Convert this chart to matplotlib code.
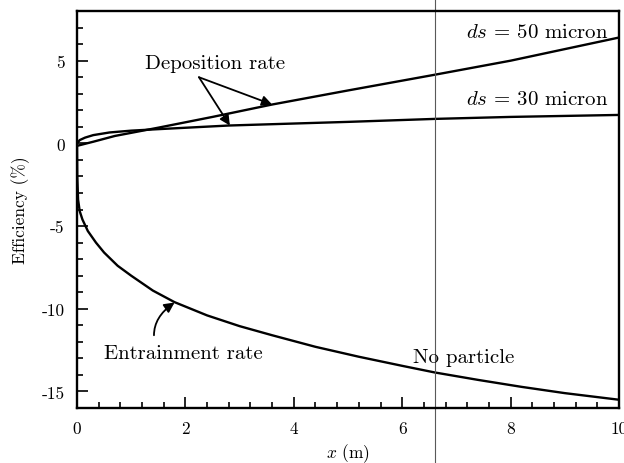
import matplotlib
matplotlib.use("Agg")
import matplotlib.pyplot as plt
from matplotlib.ticker import MultipleLocator, FuncFormatter

plt.rcParams["font.family"] = ["cmr10", "DejaVu Serif"]
plt.rcParams["mathtext.fontset"] = "cm"
plt.rcParams["axes.unicode_minus"] = False
plt.rcParams["axes.formatter.use_mathtext"] = True

# deposition efficiency, ds = 50 micron
x_50 = [0.0, 0.3, 0.7, 1.5, 2.5, 3.6, 5.0, 6.6, 8.0, 10.0]
y_50 = [-0.15, 0.1, 0.45, 0.95, 1.6, 2.35, 3.2, 4.15, 5.0, 6.4]

# deposition efficiency, ds = 30 micron
x_30 = [0.0, 0.05, 0.15, 0.3, 0.6, 1.0, 1.5, 2.8, 5.0, 6.6, 8.0, 10.0]
y_30 = [0.0, 0.2, 0.35, 0.5, 0.66, 0.77, 0.86, 1.08, 1.3, 1.48, 1.6, 1.72]

# entrainment, no particle
x_np = [0.0, 0.005, 0.02, 0.05, 0.1, 0.2, 0.35, 0.5, 0.75, 1.0, 1.4, 1.8,
        2.4, 3.0, 3.6, 4.4, 5.2, 6.0, 6.6, 7.4, 8.2, 9.0, 10.0]
y_np = [0.0, -2.0, -3.4, -4.1, -4.6, -5.3, -6.0, -6.6, -7.4, -8.0, -8.9, -9.6,
        -10.4, -11.05, -11.6, -12.3, -12.9, -13.45, -13.85, -14.3, -14.72,
        -15.1, -15.5]

fig = plt.figure(figsize=(6.24, 4.64), dpi=100)
ax = fig.add_axes([0.1234, 0.1185, 0.8686, 0.8555])

for xs, ys in [(x_50, y_50), (x_30, y_30), (x_np, y_np)]:
    ax.plot(xs, ys, color="black", lw=1.7, solid_joinstyle="round")

ax.set_xlim(0, 10)
ax.set_ylim(-16, 8)
ax.xaxis.set_major_locator(MultipleLocator(2))
ax.xaxis.set_minor_locator(MultipleLocator(0.4))
ax.yaxis.set_major_locator(MultipleLocator(5))
ax.yaxis.set_minor_locator(MultipleLocator(1))
ax.xaxis.set_major_formatter(FuncFormatter(lambda v, p: f"{v:g}"))
ax.yaxis.set_major_formatter(FuncFormatter(lambda v, p: f"{v:g}"))
ax.tick_params(which="both", direction="in", top=False, right=False,
               labelsize=12.5, width=1.2)
ax.tick_params(which="major", length=8, pad=9)
ax.tick_params(which="minor", length=4.5)
for s in ax.spines.values():
    s.set_linewidth(1.7)

ax.set_xlabel(r"$x$ (m)", fontsize=12.5, labelpad=4)
ax.set_ylabel("Efficiency (%)", fontsize=12.5, labelpad=8)

arrow = dict(arrowstyle="-|>", color="black", lw=1.3,
             mutation_scale=15, shrinkA=0, shrinkB=0)
ax.text(2.55, 4.85, "Deposition rate", fontsize=15, ha="center", va="center")
ax.annotate("", xy=(3.6, 2.35), xytext=(2.25, 4.0), arrowprops=arrow)
ax.annotate("", xy=(2.82, 1.08), xytext=(2.25, 4.0), arrowprops=arrow)

ax.text(1.97, -12.65, "Entrainment rate", fontsize=15, ha="center", va="center")
ax.annotate("", xy=(1.8, -9.62), xytext=(1.42, -11.6),
            arrowprops=dict(arrow, connectionstyle="angle3,angleA=90,angleB=35"))

ax.text(7.14, -12.9, "No particle", fontsize=15, ha="center", va="center")
ax.text(9.8, 6.75, r"$ds$ = 50 micron", fontsize=15, ha="right", va="center")
ax.text(9.8, 2.7, r"$ds$ = 30 micron", fontsize=15, ha="right", va="center")

# thin rule running through the page
ax.axvline(6.6, ymin=-0.2, ymax=1.1, color="0.35", lw=0.8, clip_on=False)

fig.savefig("out.png", dpi=100)
